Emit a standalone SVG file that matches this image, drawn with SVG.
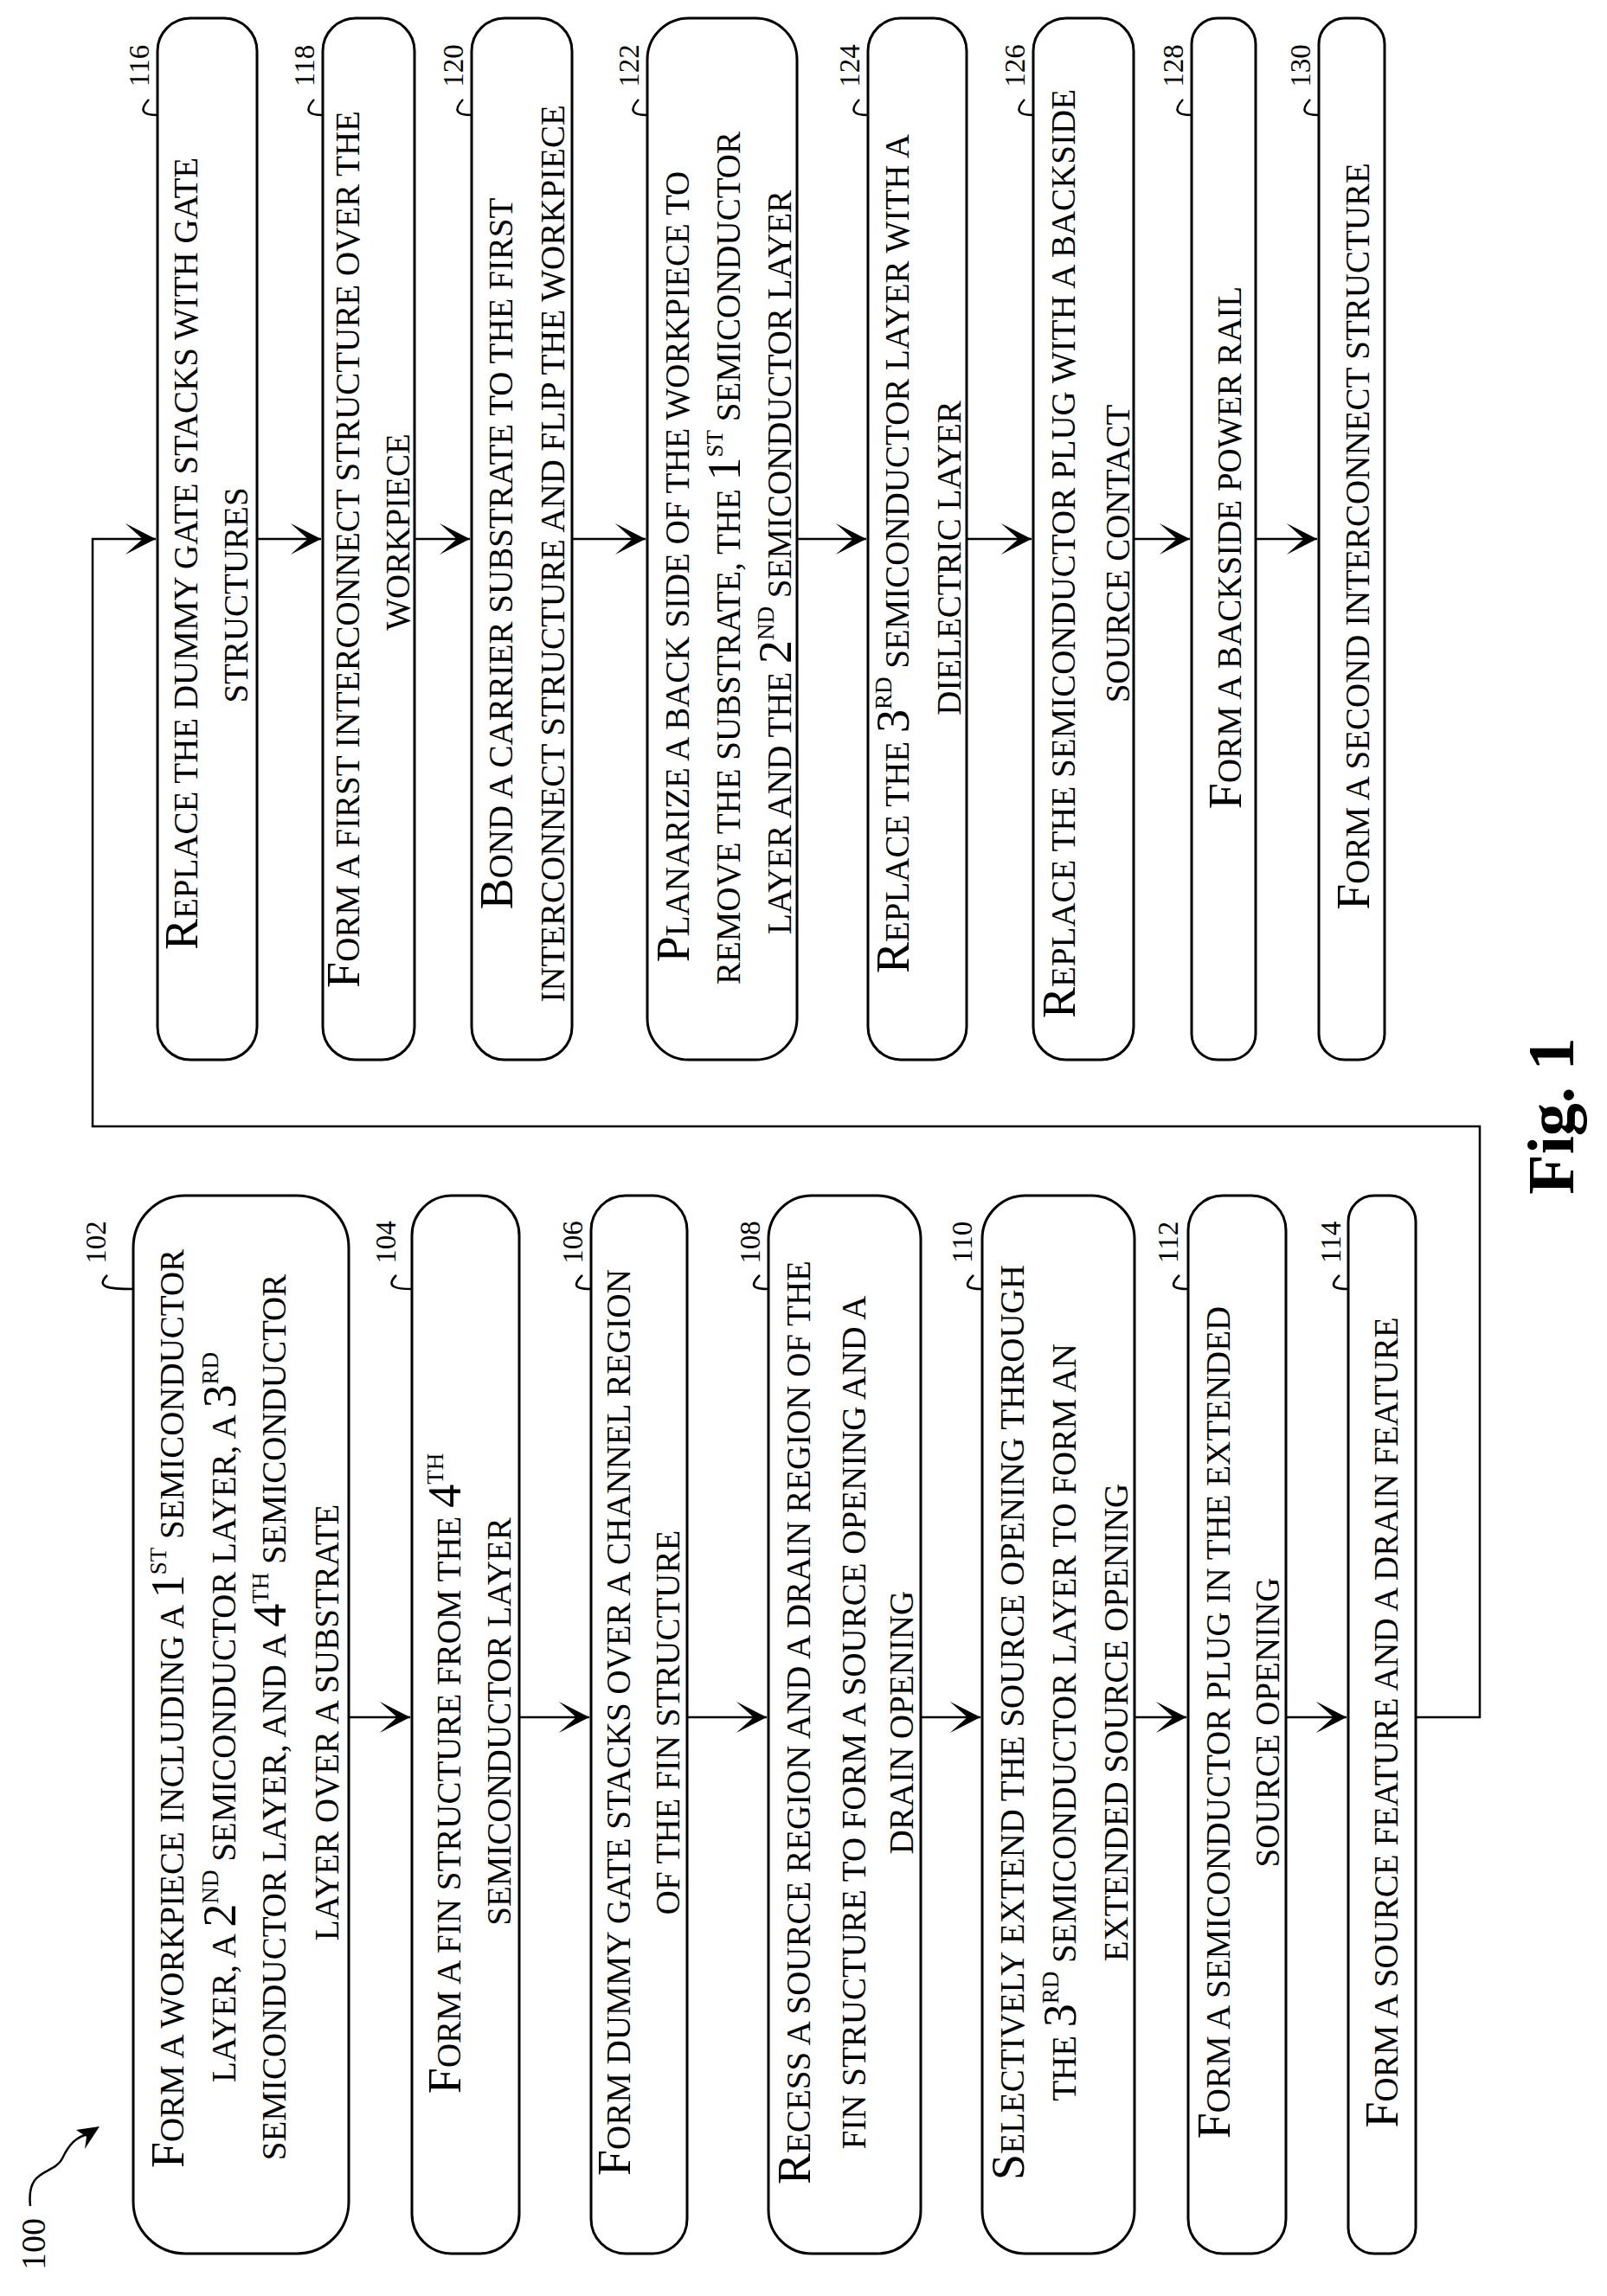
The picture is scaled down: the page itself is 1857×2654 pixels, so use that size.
<svg xmlns="http://www.w3.org/2000/svg" width="1857" height="2654" viewBox="0 0 1857 2654">
<style>
.box{fill:#fff;stroke:#000;stroke-width:3}
.t{font-family:"Liberation Serif",serif;font-size:39px;text-anchor:middle;fill:#000}
.c{font-size:54px}
.s{font-size:27px}
.lbl{font-family:"Liberation Serif",serif;font-size:33px;text-anchor:middle;fill:#000}
.ln{fill:none;stroke:#000;stroke-width:2.5}
</style>
<defs>
<marker id="ah" markerWidth="40" markerHeight="40" viewBox="-40 -20 42 40" refX="0" refY="0" markerUnits="userSpaceOnUse" orient="auto">
<path d="M0,0 L-37,-19 L-16,0 L-37,19 Z" fill="#000"/>
</marker>
</defs>
<rect width="1857" height="2654" fill="#fff"/>

<g id="connectors">
<path class="ln" d="M297,623H371" marker-end="url(#ah)"/>
<path class="ln" d="M479,623H543" marker-end="url(#ah)"/>
<path class="ln" d="M661,623H746" marker-end="url(#ah)"/>
<path class="ln" d="M921,623H1001" marker-end="url(#ah)"/>
<path class="ln" d="M1117,623H1192" marker-end="url(#ah)"/>
<path class="ln" d="M1310,623H1375" marker-end="url(#ah)"/>
<path class="ln" d="M1451,623H1522" marker-end="url(#ah)"/>
<path class="ln" d="M403,1985H474" marker-end="url(#ah)"/>
<path class="ln" d="M600,1985H681" marker-end="url(#ah)"/>
<path class="ln" d="M794,1985H886" marker-end="url(#ah)"/>
<path class="ln" d="M1064,1985H1133" marker-end="url(#ah)"/>
<path class="ln" d="M1311,1985H1371" marker-end="url(#ah)"/>
<path class="ln" d="M1486,1985H1556" marker-end="url(#ah)"/>
<path class="ln" d="M1636,1985H1710V1302H107V623H180" marker-end="url(#ah)"/>
<path class="ln" d="M35,2550 C30,2505 62,2515 72,2495 C80,2478 88,2470 104,2466" />
<path d="M115,2458 L88,2462 L100,2470 L98,2484 Z" fill="#000"/>
</g>

<g id="n100"><text class="lbl" style="font-size:40px" transform="translate(52,2594) rotate(-90)">100</text></g>

<g id="n116">
<rect class="box" x="182" y="21" width="115" height="1204" rx="38"/>
<path class="ln" d="M172,115 C160,128 165,133 182,133"/>
<text class="lbl" transform="translate(172,76) rotate(-90)">116</text>
<text class="t" transform="translate(228,640) rotate(-90)"><tspan class="c">R</tspan>EPLACE THE DUMMY GATE STACKS WITH GATE</text>
<text class="t" transform="translate(286,688) rotate(-90)">STRUCTURES</text>
</g>
<g id="n118">
<rect class="box" x="373" y="21" width="106" height="1204" rx="38"/>
<path class="ln" d="M363,115 C351,128 356,133 373,133"/>
<text class="lbl" transform="translate(363,76) rotate(-90)">118</text>
<text class="t" transform="translate(415,635) rotate(-90)"><tspan class="c">F</tspan>ORM A FIRST INTERCONNECT STRUCTURE OVER THE</text>
<text class="t" transform="translate(473,615) rotate(-90)">WORKPIECE</text>
</g>
<g id="n120">
<rect class="box" x="545" y="21" width="116" height="1204" rx="38"/>
<path class="ln" d="M535,115 C523,128 528,133 545,133"/>
<text class="lbl" transform="translate(535,76) rotate(-90)">120</text>
<text class="t" transform="translate(592,640) rotate(-90)"><tspan class="c">B</tspan>OND A CARRIER SUBSTRATE TO THE FIRST</text>
<text class="t" transform="translate(652,640) rotate(-90)">INTERCONNECT STRUCTURE AND FLIP THE WORKPIECE</text>
</g>
<g id="n122">
<rect class="box" x="748" y="21" width="173" height="1204" rx="48"/>
<path class="ln" d="M738,115 C726,128 731,133 748,133"/>
<text class="lbl" transform="translate(738,76) rotate(-90)">122</text>
<text class="t" transform="translate(796,655) rotate(-90)"><tspan class="c">P</tspan>LANARIZE A BACK SIDE OF THE WORKPIECE TO</text>
<text class="t" transform="translate(855,645) rotate(-90)">REMOVE THE SUBSTRATE, THE <tspan class="c">1</tspan><tspan class="s" dy="-20">ST</tspan><tspan dy="20"> SEMICONDUCTOR</tspan></text>
<text class="t" transform="translate(914,650) rotate(-90)">LAYER AND THE <tspan class="c">2</tspan><tspan class="s" dy="-20">ND</tspan><tspan dy="20"> SEMICONDUCTOR LAYER</tspan></text>
</g>
<g id="n124">
<rect class="box" x="1003" y="21" width="114" height="1204" rx="38"/>
<path class="ln" d="M993,115 C981,128 986,133 1003,133"/>
<text class="lbl" transform="translate(993,76) rotate(-90)">124</text>
<text class="t" transform="translate(1050,640) rotate(-90)"><tspan class="c">R</tspan>EPLACE THE <tspan class="c">3</tspan><tspan class="s" dy="-20">RD</tspan><tspan dy="20"> SEMICONDUCTOR LAYER WITH A</tspan></text>
<text class="t" transform="translate(1110,645) rotate(-90)">DIELECTRIC LAYER</text>
</g>
<g id="n126">
<rect class="box" x="1194" y="21" width="116" height="1204" rx="38"/>
<path class="ln" d="M1184,115 C1172,128 1177,133 1194,133"/>
<text class="lbl" transform="translate(1184,76) rotate(-90)">126</text>
<text class="t" transform="translate(1242,640) rotate(-90)"><tspan class="c">R</tspan>EPLACE THE SEMICONDUCTOR PLUG WITH A BACKSIDE</text>
<text class="t" transform="translate(1305,640) rotate(-90)">SOURCE CONTACT</text>
</g>
<g id="n128">
<rect class="box" x="1377" y="21" width="74" height="1204" rx="30"/>
<path class="ln" d="M1367,115 C1355,128 1360,133 1377,133"/>
<text class="lbl" transform="translate(1367,76) rotate(-90)">128</text>
<text class="t" transform="translate(1434,633) rotate(-90)"><tspan class="c">F</tspan>ORM A BACKSIDE POWER RAIL</text>
</g>
<g id="n130">
<rect class="box" x="1524" y="21" width="76" height="1204" rx="30"/>
<path class="ln" d="M1514,115 C1502,128 1507,133 1524,133"/>
<text class="lbl" transform="translate(1514,76) rotate(-90)">130</text>
<text class="t" transform="translate(1582,620) rotate(-90)"><tspan class="c">F</tspan>ORM A SECOND INTERCONNECT STRUCTURE</text>
</g>

<g id="n102">
<rect class="box" x="154" y="1382" width="249" height="1223" rx="60"/>
<path class="ln" d="M124,1474 C110,1488 125,1490 154,1490"/>
<text class="lbl" transform="translate(122,1436) rotate(-90)">102</text>
<text class="t" transform="translate(212,1975) rotate(-90)"><tspan class="c">F</tspan>ORM A WORKPIECE INCLUDING A <tspan class="c">1</tspan><tspan class="s" dy="-20">ST</tspan><tspan dy="20"> SEMICONDUCTOR</tspan></text>
<text class="t" transform="translate(272,1985) rotate(-90)">LAYER, A <tspan class="c">2</tspan><tspan class="s" dy="-20">ND</tspan><tspan dy="20"> SEMICONDUCTOR LAYER, A </tspan><tspan class="c">3</tspan><tspan class="s" dy="-20">RD</tspan></text>
<text class="t" transform="translate(330,1985) rotate(-90)">SEMICONDUCTOR LAYER, AND A <tspan class="c">4</tspan><tspan class="s" dy="-20">TH</tspan><tspan dy="20">  SEMICONDUCTOR</tspan></text>
<text class="t" transform="translate(391,1991) rotate(-90)">LAYER OVER A SUBSTRATE</text>
</g>
<g id="n104">
<rect class="box" x="476" y="1382" width="124" height="1223" rx="46"/>
<path class="ln" d="M458,1474 C444,1488 459,1490 476,1490"/>
<text class="lbl" transform="translate(457,1436) rotate(-90)">104</text>
<text class="t" transform="translate(532,2050) rotate(-90)"><tspan class="c">F</tspan>ORM A  FIN STRUCTURE FROM THE <tspan class="c">4</tspan><tspan class="s" dy="-20">TH</tspan></text>
<text class="t" transform="translate(590,1990) rotate(-90)">SEMICONDUCTOR LAYER</text>
</g>
<g id="n106">
<rect class="box" x="683" y="1382" width="111" height="1223" rx="40"/>
<path class="ln" d="M673,1474 C659,1488 668,1490 683,1490"/>
<text class="lbl" transform="translate(673,1436) rotate(-90)">106</text>
<text class="t" transform="translate(728,1991) rotate(-90)"><tspan class="c">F</tspan>ORM DUMMY GATE STACKS OVER A CHANNEL REGION</text>
<text class="t" transform="translate(785,1991) rotate(-90)">OF THE FIN STRUCTURE</text>
</g>
<g id="n108">
<rect class="box" x="888" y="1382" width="176" height="1223" rx="50"/>
<path class="ln" d="M878,1474 C864,1488 873,1490 888,1490"/>
<text class="lbl" transform="translate(878,1436) rotate(-90)">108</text>
<text class="t" transform="translate(936,1991) rotate(-90)"><tspan class="c">R</tspan>ECESS A SOURCE REGION AND A DRAIN REGION OF THE</text>
<text class="t" transform="translate(1000,1991) rotate(-90)">FIN STRUCTURE TO FORM A SOURCE OPENING AND A</text>
<text class="t" transform="translate(1055,1991) rotate(-90)">DRAIN OPENING</text>
</g>
<g id="n110">
<rect class="box" x="1135" y="1382" width="176" height="1223" rx="50"/>
<path class="ln" d="M1125,1474 C1111,1488 1120,1490 1135,1490"/>
<text class="lbl" transform="translate(1123,1436) rotate(-90)">110</text>
<text class="t" transform="translate(1183,1991) rotate(-90)"><tspan class="c">S</tspan>ELECTIVELY EXTEND THE SOURCE OPENING THROUGH</text>
<text class="t" transform="translate(1243,1991) rotate(-90)">THE <tspan class="c">3</tspan><tspan class="s" dy="-20">RD</tspan><tspan dy="20"> SEMICONDUCTOR LAYER TO FORM AN</tspan></text>
<text class="t" transform="translate(1303,1991) rotate(-90)">EXTENDED SOURCE OPENING</text>
</g>
<g id="n112">
<rect class="box" x="1373" y="1382" width="113" height="1223" rx="40"/>
<path class="ln" d="M1363,1474 C1349,1488 1358,1490 1373,1490"/>
<text class="lbl" transform="translate(1361,1436) rotate(-90)">112</text>
<text class="t" transform="translate(1421,1991) rotate(-90)"><tspan class="c">F</tspan>ORM A SEMICONDUCTOR PLUG IN THE EXTENDED</text>
<text class="t" transform="translate(1478,1991) rotate(-90)">SOURCE OPENING</text>
</g>
<g id="n114">
<rect class="box" x="1558" y="1382" width="78" height="1223" rx="30"/>
<path class="ln" d="M1548,1474 C1534,1488 1543,1490 1558,1490"/>
<text class="lbl" transform="translate(1549,1436) rotate(-90)">114</text>
<text class="t" transform="translate(1615,1991) rotate(-90)"><tspan class="c">F</tspan>ORM A SOURCE FEATURE AND A DRAIN FEATURE</text>
</g>

<g id="fig"><text transform="translate(1818,1290) rotate(-90)" style="font-family:'Liberation Serif',serif;font-weight:bold;font-size:76px;text-anchor:middle">Fig. 1</text></g>
</svg>
